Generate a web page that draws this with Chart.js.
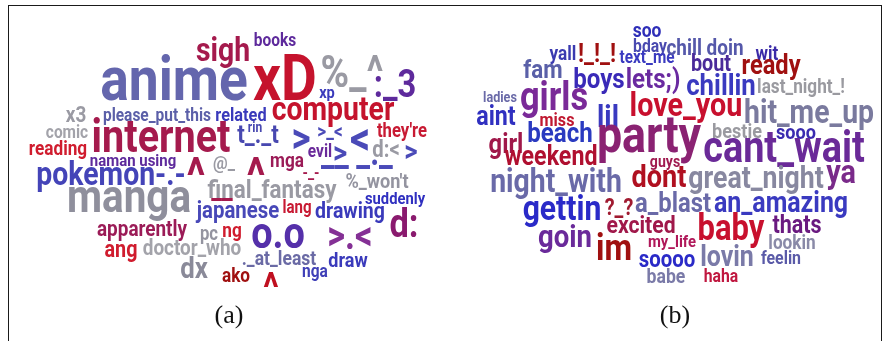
<!DOCTYPE html>
<html>
<head>
<meta charset="utf-8">
<script src="https://cdn.jsdelivr.net/npm/chart.js@4.4.1/dist/chart.umd.min.js"></script>
<style>
  html, body { margin: 0; padding: 0; background: #fff; }
  #wrap { position: relative; width: 884px; height: 341px; overflow: hidden; }
  #frame { position: absolute; left: 8px; top: 5px; width: 874px; height: 345px;
           border: 1.5px solid #1a1a1a; box-sizing: border-box; pointer-events: none; }
  canvas { position: absolute; left: 0; top: 0; }
</style>
</head>
<body>
<div id="wrap">
  <canvas id="c" width="884" height="341"></canvas>
  <div id="frame"></div>
</div>
<script>
// ---------- DATA ----------
const panelLabels = ["(a)", "(b)"];
const panelCenters = [229, 675];

// panel (a) words and their weights
const wordsA = ["sigh","books","anime","xD","%_^",":_3","xp","computer","related","please_put_this",
  "x3","comic","reading","internet","naman using","pokemon-.-","manga","^","@_","^",
  "mga","t_._t","rin",">",">_<","<","they're","d:<",">","evil",
  ">","__ _._","-_-","%_won't","suddenly","final_fantasy","__","japanese","lang","drawing",
  "d:","apparently","pc","ng","o.o",">.<","ang","doctor_who","dx","._at_least",
  "draw","ako","^","nga"];
const weightsA = [33,18,62,64,45,38,17,33,19,18,
  22,18,20,46,17.4,33,47,50,19,50,
  20,26,14,43,20,46,19.4,23.6,30,18,
  32,36,16,21,17.2,26,28,23.7,17.5,22.7,
  40,22,19.4,20,44,40,23,22,30,20.4,
  21,20,42,18];

// panel (b) words and their weights
const wordsB = ["soo","bday","text_me","chill doin","wit","bout","ready","yall","!_!_!","fam",
  "boys","lets;)","chillin","last_night_!","ladies","girls","aint","miss","lil","love_you",
  "hit_me_up","girl","beach","party","bestie","sooo","cant_wait","weekend","guys","night_with",
  "dont","great_night","ya","gettin","?_?","a_blast","an_amazing","excited","baby","thats",
  "goin","im","my_life","lookin","soooo","lovin","feelin","babe","haha"];
const weightsB = [20.3,18.3,17.9,22,19.8,23,27.5,20,26,26,
  28,28,30,20,14.7,40,27,18.8,32,33.4,
  33,27.6,28,52,21,21,44,27,16.4,33,
  31.5,31,33.5,35,23,27.7,29,24.6,36,25,
  32,37,17.3,20,23.7,29,18.5,20.5,18.3];

// ---------- CLOUD LAYOUT (placement in plot units: centre x, baseline y) ----------
const layoutXA = [223,275,174,285,352,395,327,333,241,157,
  76,67,58,161,133,111,129,196,224,256,
  287,258,255,301,330,360,402,386,411,320,
  340,357,311,377,395,272,222,238,297,350,
  404,142,209,232,278,350,121,192,194,279,
  348,236,271,315];
const layoutYA = [61,46,100,100,87,97,98,120,121,121,
  122,138,155,152,166,185,212,193,169,193,
  167,143,132,152,138,154,137,157,161,157,
  163,165,178,188,204,198,198,218,213,218,
  237,236,240,237,248,249,257,255,278,265,
  267,282,302,277];
const layoutXB = [647,650,647,705,767,711,771,563,597,543,
  599,653,721,801,500,554,496,557,608,686,
  809,506,560,649,737,796,784,551,665,556,
  659,756,841,562,619,673,781,641,731,797,
  565,614,672,792,667,727,781,666,721];
const layoutYB = [37,52,63,55,60,71,74,60,62,78,
  88,88,95,93,102,110,125,126,127,116,
  123,153,142,152,138,139,162,165,167,192,
  187,188,183,220,215,212,212,233,240,233,
  247,260,247,249,267,266,264,283,282];

// ---------- STYLE ----------
const RED = "#c5132d", CRIM = "#a51a4d", PLUM = "#9b1b57", DRED = "#a01010";
const BLUE = "#3a3abb", SLATE = "#6466ad", GRAY = "#9a9aa3", PURP = "#5e2a9c";
const colorsA = [CRIM,PURP,SLATE,RED,GRAY,PURP,BLUE,RED,BLUE,"#5b5fa8",
  GRAY,"#a3a3aa","#d01c2e",CRIM,PURP,"#4444b8","#8f8f9c",CRIM,GRAY,CRIM,
  PLUM,"#4848b0","#4848b0","#4a4ab8","#4a4ab8","#4a4ab8","#c81a33",GRAY,"#4a4ab8","#6a2a9a",
  "#4a4ab8","#4a4ab8",CRIM,"#9494a0","#3030c0",GRAY,CRIM,"#4848b8","#c81a33",BLUE,
  "#8a1a6e",PLUM,"#9494a0","#d01c2e","#5530aa","#843095","#d01c2e","#a3a3aa","#8a8a99","#6a6aa5",
  BLUE,DRED,"#c01020","#4040b8"];
const colorsB = ["#2e2eb8","#4a4ab0","#3a3ac0","#5558aa","#3a2aa8","#4a2a9a",DRED,"#3a3ab0",DRED,"#5a60a8",
  "#3a2ab8","#6a2aa0","#3a3ac0","#9a9aa0","#6a6aa8","#7a2a98","#3030c0","#c01830","#3a3ac0","#c8102e",
  "#7a7a9e","#a0184a","#2a3ac0","#8a2272","#9a9aa0","#3a2ab0","#6a2a98","#b01030","#a01a50","#6a6aa8",
  "#b01020","#8888a0","#7a2a8a","#2a2ac8","#a01a30","#6a6aa8","#3a3ac0","#a0184a","#c8102e","#6a1a80",
  "#6a2a9a",DRED,"#b0185a","#8a8aa8","#2a2ac8","#7a7aa8","#5a5aa8","#7a7aa8","#c01840"];

const SQUEEZE = 0.86;
const AXIS_H = 45;
const W = 884, H = 341;

function pts(xs, ys) { return xs.map((x, i) => ({ x: x, y: ys[i] })); }

const wordPlugin = {
  id: "wordcloud",
  afterDatasetsDraw(chart) {
    const ctx = chart.ctx;
    chart.data.datasets.forEach((ds, di) => {
      const meta = chart.getDatasetMeta(di);
      meta.data.forEach((el, i) => {
        ctx.save();
        ctx.translate(el.x, el.y);
        ctx.scale(SQUEEZE, 1);
        ctx.font = "700 " + ds.weights[i] + "px Roboto, 'Liberation Sans', sans-serif";
        ctx.textAlign = "center";
        ctx.textBaseline = "alphabetic";
        ctx.fillStyle = ds.colors[i];
        ctx.fillText(ds.words[i], 0, 0);
        ctx.restore();
      });
    });
  }
};

new Chart(document.getElementById("c"), {
  type: "scatter",
  data: {
    datasets: [
      { label: "a", data: pts(layoutXA, layoutYA), words: wordsA, weights: weightsA, colors: colorsA,
        pointRadius: 0, pointHoverRadius: 0, clip: false },
      { label: "b", data: pts(layoutXB, layoutYB), words: wordsB, weights: weightsB, colors: colorsB,
        pointRadius: 0, pointHoverRadius: 0, clip: false }
    ]
  },
  options: {
    responsive: false,
    devicePixelRatio: 1,
    animation: false,
    events: [],
    layout: { padding: 0 },
    plugins: { legend: { display: false }, tooltip: { enabled: false } },
    scales: {
      x: {
        type: "linear", min: 0, max: W, position: "bottom",
        grid: { display: false, drawTicks: false }, border: { display: false },
        afterFit: (s) => { s.height = AXIS_H; },
        afterBuildTicks: (s) => { s.ticks = panelCenters.map(v => ({ value: v })); },
        ticks: {
          autoSkip: false, maxRotation: 0, padding: 5, color: "#111",
          font: { family: "'Liberation Serif', 'Times New Roman', serif", size: 26 },
          callback: (v, i) => panelLabels[i]
        }
      },
      y: { type: "linear", min: 0, max: H - AXIS_H, reverse: true, display: false }
    }
  },
  plugins: [wordPlugin]
});
</script>
</body>
</html>
